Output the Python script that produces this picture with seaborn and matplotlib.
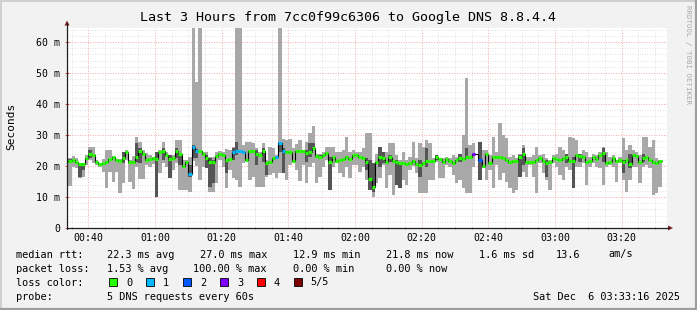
import numpy as np
import pandas as pd
import matplotlib
matplotlib.use("Agg")
import matplotlib.pyplot as plt
import seaborn as sns
from matplotlib.patches import Polygon, Rectangle
from matplotlib.lines import Line2D

nan = np.nan

# ---------------- data (ms), one value per minute starting 00:34 ----------------
median_ms = [
    21.7, 21.9, 21.4, 20.6, 20.6, 22.5, 23.9, 23.5, 21.4, 20.5,
    21.1, 21.3, 22.3, 22.8, 21.9, 21.6, 22.7, 24.5, 21.4, 21.4,
    23.0, 24.9, 23.9, 21.9, 22.4, 22.6, 22.4, 24.5, 24.7, 23.5,
    22.4, 22.6, 24.9, 23.9, 20.1, 21.4, 17.4, 26.2, 24.8, 24.8,
    23.8, 22.5, 21.4, 21.4, 23.2, 23.9, 23.5, 21.9, 22.3, 24.6,
    24.8, 24.8, 24.4, 21.9, 24.8, 24.8, 23.9, 23.5, 24.8, 21.1,
    21.4, 22.5, 23.0, 27.3, 24.9, 24.6, 24.6, 21.7, 24.9, 24.9,
    24.9, 24.3, 24.6, 25.7, 23.3, 23.0, 23.5, 24.3, 21.4, 23.0,
    21.6, 21.9, 22.3, 22.8, 22.4, 23.5, 23.5, 22.8, 22.5, 21.4,
    15.8, 13.1, 21.4, 23.0, 22.5, 21.4, 23.0, 21.6, 21.2, 21.1,
    21.1, 20.6, 20.9, 21.6, 20.6, 20.3, 21.1, 21.6, 21.6, 21.6,
    22.8, 22.2, 21.4, 22.2, 21.7, 21.1, 21.9, 22.5, 22.3, 22.8,
    23.0, 23.9, nan, 21.9, 20.0, 23.9, 20.9, 23.0, 22.8, 22.8,
    22.5, 21.9, 21.4, 21.6, 21.6, 23.0, 23.9, 21.4, 21.4, 21.4,
    21.9, 22.7, 21.7, 20.9, 21.4, 22.5, 22.3, 21.9, 22.5, 22.8,
    21.7, 21.6, 23.5, 23.2, 22.8, 21.4, 21.7, 22.8, 22.3, 23.5,
    24.3, 21.1, 21.4, 22.5, 21.6, 21.9, 21.4, 21.9, 20.6, 23.5,
    23.2, 21.4, 22.7, 22.8, 21.9, 21.4, 21.1, 21.7,
]
smoke_hi = [
    22.5, 23.2, 22.5, 21.0, 21.0, 23.5, 26.2, 26.2, 22.0, 21.1,
    22.2, 25.2, 25.2, 23.2, 22.0, 22.4, 24.6, 25.0, 21.9, 23.2,
    29.2, 27.8, 25.2, 24.3, 23.5, 22.8, 24.6, 25.2, 27.8, 24.6,
    23.5, 23.5, 28.4, 28.4, 21.9, 21.9, 23.0, 70.0, 47.0, 70.0,
    24.6, 24.6, 23.0, 23.0, 24.6, 24.9, 24.6, 25.4, 25.2, 26.2,
    70.0, 70.0, 26.8, 27.8, 27.8, 27.3, 25.7, 24.6, 27.3, 21.9,
    26.2, 25.7, 23.5, 70.0, 28.6, 28.4, 28.6, 25.7, 27.1, 28.4,
    24.6, 27.8, 30.5, 32.9, 24.0, 24.0, 24.6, 26.2, 26.2, 26.2,
    24.6, 24.6, 25.2, 29.2, 24.6, 25.2, 24.6, 24.6, 25.7, 30.5,
    30.5, 21.0, 24.0, 26.2, 24.6, 24.6, 27.3, 27.3, 23.5, 21.9,
    24.6, 21.9, 23.0, 27.8, 22.5, 27.3, 26.2, 28.4, 27.3, 22.5,
    23.5, 22.5, 22.5, 23.0, 22.5, 23.5, 23.0, 24.0, 30.0, 48.3,
    26.8, 27.3, nan, 27.8, 25.2, 25.2, 23.5, 29.5, 24.6, 33.8,
    30.0, 28.9, 23.0, 23.5, 22.5, 24.0, 26.8, 23.0, 23.0, 23.5,
    26.2, 23.5, 24.0, 22.5, 21.9, 23.5, 24.0, 26.2, 25.2, 24.0,
    29.5, 28.9, 28.4, 23.9, 25.2, 24.6, 23.0, 24.0, 23.5, 24.6,
    26.2, 24.6, 22.8, 23.5, 21.9, 23.0, 28.9, 25.2, 26.8, 25.2,
    24.6, 23.5, 29.5, 29.5, 26.2, 28.4, 22.5, 22.0,
]
smoke_lo = [
    13.5, 19.6, 19.2, 16.0, 16.6, 20.3, 21.9, 21.1, 20.3, 19.6,
    18.2, 12.8, 18.2, 14.9, 18.2, 11.4, 14.4, 22.0, 14.9, 12.5,
    19.8, 15.7, 15.7, 20.3, 19.8, 20.6, 10.1, 17.8, 20.9, 19.8,
    16.0, 18.7, 20.9, 12.3, 12.3, 12.3, 11.7, 21.5, 20.0, 15.5,
    19.8, 19.2, 11.7, 11.7, 14.4, 22.0, 19.8, 12.8, 18.7, 16.0,
    15.5, 13.3, 20.9, 21.9, 15.5, 16.6, 13.3, 13.3, 13.3, 16.6,
    17.1, 17.6, 16.0, 17.6, 17.6, 15.5, 20.3, 21.4, 18.7, 15.0,
    20.3, 14.4, 19.8, 20.9, 14.4, 16.6, 19.8, 21.9, 12.3, 19.8,
    20.9, 17.6, 16.6, 19.8, 16.0, 20.3, 20.3, 18.2, 19.8, 15.5,
    12.3, 10.1, 14.4, 16.0, 20.3, 12.8, 17.1, 10.6, 14.0, 12.8,
    15.5, 13.9, 18.7, 20.0, 17.6, 11.2, 11.2, 11.2, 15.5, 15.5,
    21.4, 16.0, 16.0, 20.3, 19.8, 17.1, 14.4, 15.5, 12.8, 11.4,
    11.2, 19.8, nan, 15.5, 19.2, 15.5, 18.7, 12.8, 20.3, 15.5,
    17.6, 14.9, 12.8, 11.2, 12.3, 16.6, 18.2, 16.6, 20.3, 16.6,
    11.2, 20.9, 17.6, 15.5, 12.3, 20.9, 19.8, 17.1, 15.5, 19.8,
    18.7, 12.8, 19.8, 19.8, 21.1, 13.9, 19.8, 20.9, 19.8, 19.2,
    13.9, 19.8, 20.3, 19.8, 14.9, 20.9, 15.5, 11.7, 15.5, 19.8,
    19.8, 14.4, 19.8, 20.3, 19.2, 10.6, 11.2, 13.3,
]
# inner (darker) smoke band for the minutes where it is visible
dark_minute = [0, 3, 4, 6, 16, 20, 21, 26, 28, 30, 32, 33, 36, 37, 38, 41, 42, 43,
               47, 49, 50, 56, 58, 59, 63, 64, 71, 72, 73, 75, 78, 89, 90, 91, 93,
               94, 96, 98, 99, 103, 105, 107, 110, 117, 119, 123, 135, 136, 143,
               149, 151, 153, 160, 166, 168, 172]
dark_lo = [21.0, 16.6, 18.7, 22.5, 20.9, 21.4, 20.9, 10.1, 22.0, 16.0, 22.5, 20.3,
           16.6, 22.5, 22.5, 19.2, 13.3, 14.4, 17.8, 21.9, 23.5, 20.3, 21.4, 17.1,
           24.6, 17.6, 21.4, 23.0, 25.7, 22.5, 12.3, 18.7, 12.3, 11.7, 19.8, 20.9,
           21.4, 14.0, 12.8, 20.9, 16.6, 19.8, 21.9, 21.4, 22.5, 15.5, 16.6, 20.3,
           16.6, 21.1, 12.8, 21.4, 21.4, 17.8, 19.2, 21.4]
dark_hi = [22.2, 20.9, 20.9, 25.0, 24.6, 27.5, 25.7, 24.6, 25.7, 23.5, 25.7, 24.0,
           20.3, 26.8, 25.5, 23.5, 22.5, 21.9, 22.0, 25.7, 27.8, 25.2, 25.7, 21.4,
           27.8, 25.7, 25.2, 27.3, 27.5, 23.5, 23.0, 22.5, 21.9, 20.9, 26.2, 24.6,
           23.5, 21.9, 20.9, 21.9, 21.9, 25.7, 23.5, 24.0, 25.7, 27.8, 23.5, 25.7,
           21.9, 24.0, 23.0, 23.9, 25.7, 21.9, 24.0, 23.9]
# packet loss (lost pings out of 5) for minutes with loss
loss_minute = [36, 37, 38, 49, 50, 51, 52, 62, 63, 64, 121, 122, 123]
loss_count = [1, 1, 1, 1, 1, 1, 1, 1, 1, 1, 3, 5, 2]

loss_colors = ["#26ff00", "#00b8ff", "#0059ff", "#7e00ff", "#ff0000", "#7e0000"]
loss_labels = ["0", "1", "2", "3", "4", "5/5"]

start_minute = 34          # first sample at 00:34
xtick_minutes = [40, 60, 80, 100, 120, 140, 160, 180, 200]
xtick_labels = ["00:40", "01:00", "01:20", "01:40", "02:00", "02:20", "02:40", "03:00", "03:20"]
ytick_values = [0, 10, 20, 30, 40, 50, 60]
ytick_labels = ["0", "10 m", "20 m", "30 m", "40 m", "50 m", "60 m"]

# ---------------- figure ----------------
sns.set_theme(style="white")
plt.rcParams["font.family"] = ["DejaVu Sans Mono", "DejaVu Sans"]

W, H = 697, 310
def fx(x):
    return x / W
def fy(y):
    return 1 - y / H

fig = plt.figure(figsize=(W / 100, H / 100), dpi=100, facecolor="#f2f2f2")
ax = fig.add_axes([fx(67), fy(228), 600 / W, 200 / H])
ax.set_facecolor("white")
ax.set_xlim(33.6, 213.6)
ax.set_ylim(0, 64.5)

# grid (dotted, light)
for v in np.arange(2, 64.5, 2):
    if v % 10 == 0:
        continue
    ax.axhline(v, color="#d6d6d6", lw=0.6, ls=(0, (1, 2)), zorder=0)
for v in np.arange(35, 214, 5):
    if v % 20 == 0:
        continue
    ax.axvline(v, color="#d6d6d6", lw=0.6, ls=(0, (1, 2)), zorder=0)
for v in ytick_values[1:]:
    ax.axhline(v, color="#f3a8a8", lw=0.7, ls=(0, (1, 1.6)), zorder=0.5)
for v in xtick_minutes:
    ax.axvline(v, color="#f3a8a8", lw=0.7, ls=(0, (1, 1.6)), zorder=0.5)

n = len(median_ms)
t = start_minute + np.arange(n)
loss = np.zeros(n, dtype=int)
loss[loss_minute] = loss_count
df = pd.DataFrame({"t": t, "median": median_ms, "lo": smoke_lo, "hi": smoke_hi, "loss": loss})

# outer smoke
ax.bar(df["t"], df["hi"] - df["lo"], bottom=df["lo"], width=1.0, align="edge",
       color="#a8a8a8", linewidth=0, zorder=2)
# inner smoke
dk = pd.DataFrame({"t": start_minute + np.array(dark_minute), "lo": dark_lo, "hi": dark_hi})
ax.bar(dk["t"], dk["hi"] - dk["lo"], bottom=dk["lo"], width=1.0, align="edge",
       color="#555555", linewidth=0, zorder=3)

# median step line (black) via seaborn
step = pd.concat([df[["t", "median"]],
                  pd.DataFrame({"t": [t[-1] + 1], "median": [median_ms[-1]]})],
                 ignore_index=True)
sns.lineplot(data=step, x="t", y="median", drawstyle="steps-post", color="black",
             lw=0.8, estimator=None, sort=False, ax=ax, zorder=4)
# coloured median markers
seg_cols = [loss_colors[k] for k in df["loss"]]
ax.hlines(df["median"], df["t"], df["t"] + 1, colors=seg_cols, lw=2.3, zorder=5,
          capstyle="butt")

# axes cosmetics
for s in ["top", "right", "left", "bottom"]:
    ax.spines[s].set_visible(False)
ax.set_xticks(xtick_minutes)
ax.set_xticklabels(xtick_labels)
ax.set_xticks(np.arange(35, 214, 5), minor=True)
ax.set_yticks(ytick_values)
ax.set_yticklabels(ytick_labels)
ax.tick_params(axis="x", which="major", length=3, width=0.7, color="#de5050",
               direction="inout", pad=2, labelsize=7.1, labelcolor="black")
ax.tick_params(axis="x", which="minor", length=2, width=0.7, color="#a0a0a0",
               direction="inout", bottom=True)
ax.tick_params(axis="y", which="major", length=3, width=0.7, color="#de5050",
               direction="inout", pad=3.2, labelsize=7.1, labelcolor="black", left=True)
ax.set_xlabel("")
ax.set_ylabel("")

# axis lines with arrows
fig.add_artist(Line2D([fx(66.5), fx(669)], [fy(228), fy(228)], color="#1f1f1f", lw=0.9))
fig.add_artist(Line2D([fx(67), fx(67)], [fy(228.5), fy(23)], color="#1f1f1f", lw=0.9))
fig.add_artist(Polygon([[fx(64.5), fy(25.5)], [fx(69.5), fy(25.5)], [fx(67), fy(20.5)]],
                       closed=True, color="#801f1f", lw=0))
fig.add_artist(Polygon([[fx(668), fy(225.5)], [fx(668), fy(230.5)], [fx(673), fy(228)]],
                       closed=True, color="#801f1f", lw=0))

# titles
fig.text(fx(348), fy(18), "Last 3 Hours from 7cc0f99c6306 to Google DNS 8.8.4.4",
         ha="center", va="center", fontsize=9.6, color="black")
fig.text(fx(11), fy(126), "Seconds", rotation=90, ha="center", va="center",
         fontsize=8.0, color="black")
fig.text(fx(688), fy(5), "RRDTOOL / TOBI OETIKER", rotation=270, ha="center", va="top",
         fontsize=5.3, color="#a8a8a8")

# legend
fs = 7.4
rows = [
    (254.5, [(16, "median rtt:"), (107, "22.3 ms avg"), (200, "27.0 ms max"), (293, "12.9 ms min"),
             (386, "21.8 ms now"), (479, "1.6 ms sd"), (556, "13.6"), (608, "am/s")]),
    (268.5, [(16, "packet loss:"), (107, "1.53 % avg"), (193, "100.00 % max"), (293, "0.00 % min"),
             (386, "0.00 % now")]),
    (282.5, [(16, "loss color:")]),
    (296.5, [(16, "probe:"), (107, "5 DNS requests every 60s")]),
]
for y, items in rows:
    for x, s in items:
        fig.text(fx(x), fy(y), s, ha="left", va="center", fontsize=fs, color="black")
fig.text(fx(680), fy(296.5), "Sat Dec  6 03:33:16 2025", ha="right", va="center",
         fontsize=fs, color="black")
sq_x = [108.5, 145.5, 182.5, 219.5, 256.5, 293.5]
lab_x = [126, 163, 200, 237, 273, 310]
for c, lab, sx, lx in zip(loss_colors, loss_labels, sq_x, lab_x):
    fig.add_artist(Rectangle((fx(sx), fy(286)), 8 / W, 8 / H, facecolor=c,
                             edgecolor="black", lw=0.6))
    fig.text(fx(lx), fy(282.5), lab, ha="left", va="center", fontsize=fs, color="black")

# outer 3D frame
fig.add_artist(Line2D([0, 1], [fy(0.5), fy(0.5)], color="#cfcfcf", lw=1.4))
fig.add_artist(Line2D([fx(0.5), fx(0.5)], [0, 1], color="#cfcfcf", lw=1.4))
fig.add_artist(Line2D([0, 1], [fy(309), fy(309)], color="#9e9e9e", lw=1.6))
fig.add_artist(Line2D([fx(696), fx(696)], [0, 1], color="#9e9e9e", lw=1.6))

fig.savefig("out.png", dpi=100, facecolor=fig.get_facecolor())
